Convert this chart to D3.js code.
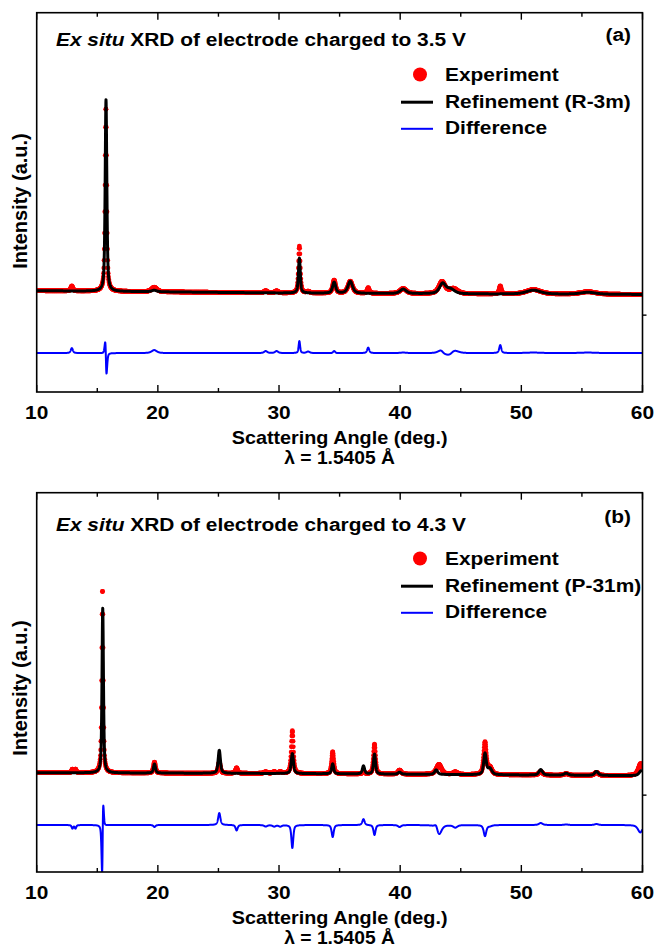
<!DOCTYPE html>
<html>
<head>
<meta charset="utf-8">
<script src="https://cdn.jsdelivr.net/npm/d3@7"></script>
<style>
  html, body { margin: 0; padding: 0; background: #fff; }
  svg text { font-family: "Liberation Sans", Arial, sans-serif; font-weight: bold; fill: #000; }
</style>
</head>
<body>
<svg id="chart" width="656" height="948"></svg>
<script>
// ---------- shared axis data ----------
const xDomain = [10, 60];
const xMajorTicks = [10, 20, 30, 40, 50, 60];
const xMinorTicks = [15, 25, 35, 45, 55];
const yDomain = [0, 3800];          // counts
const yRightTicks = [770];
const xTitle = "Scattering Angle (deg.)";
const wavelengthLabel = "\u03bb = 1.5405 \u00c5";
const yTitle = "Intensity (a.u.)";
const lorentzFraction = 0.6;        // pseudo-Voigt mixing

// ---------- panel (a): 3.5 V, R-3m ----------
// reflections: [2θ (deg), height above background (counts), FWHM (deg)]
const calcPeaksA = [
  [15.72, 1920, 0.16], [19.70, 15, 0.5], [31.68, 350, 0.18], [34.55, 110, 0.30],
  [35.88, 120, 0.45], [40.25, 45, 0.6], [43.50, 100, 0.6], [44.15, 45, 0.8],
  [51.00, 40, 1.4], [55.50, 20, 1.5]
];
const obsPeaksA = [
  [12.90, 50, 0.2], [15.71, 1850, 0.16], [19.70, 45, 0.5], [28.90, 20, 0.3],
  [29.80, 20, 0.3], [31.68, 470, 0.17], [32.40, 15, 0.3], [34.55, 130, 0.28],
  [35.88, 120, 0.45], [37.36, 55, 0.2], [40.25, 50, 0.6], [43.45, 120, 0.6],
  [44.40, 50, 0.8], [48.26, 80, 0.2], [51.00, 45, 1.4], [55.50, 25, 1.5]
];
const backgroundA = [[10, 1015], [30, 992], [45, 982], [60, 977]];
const residualOffsetA = 390;
const residualSignA = 1;      // observed − calculated
const titleA = { italic: "Ex situ", rest: " XRD of electrode charged to 3.5 V" };
const tagA = "(a)";
const legendA = ["Experiment", "Refinement (R-3m)", "Difference"];

// ---------- panel (b): 4.3 V, P-31m ----------
const calcPeaksB = [
  [15.45, 1650, 0.14], [19.72, 90, 0.2], [25.07, 230, 0.22], [31.10, 200, 0.22],
  [34.43, 100, 0.2], [36.97, 80, 0.22], [37.88, 200, 0.2], [39.95, 20, 0.3],
  [42.97, 45, 0.3], [47.00, 210, 0.25], [47.40, 60, 0.4], [51.60, 55, 0.35],
  [53.70, 20, 0.4], [56.20, 40, 0.35], [59.90, 50, 0.4]
];
const obsPeaksB = [
  [12.95, 35, 0.15], [13.20, 35, 0.15], [15.43, 1850, 0.14], [19.72, 110, 0.2],
  [25.07, 110, 0.22], [26.50, 55, 0.2], [28.90, 15, 0.3], [29.60, 15, 0.3],
  [30.10, 15, 0.3], [31.10, 430, 0.2], [34.43, 220, 0.2], [36.97, 20, 0.22],
  [37.88, 300, 0.2], [39.95, 40, 0.3], [43.20, 100, 0.5], [44.55, 25, 0.4],
  [47.00, 320, 0.25], [47.40, 70, 0.4], [51.60, 35, 0.35], [53.70, 15, 0.4],
  [56.20, 30, 0.35], [59.85, 120, 0.45]
];
const backgroundB = [[10, 995], [30, 987], [50, 972], [60, 965]];
const residualOffsetB = 471;
const residualSignB = -1;     // plotted as calculated − observed
const titleB = { italic: "Ex situ", rest: " XRD of electrode charged to 4.3 V" };
const tagB = "(b)";
const legendB = ["Experiment", "Refinement (P-31m)", "Difference"];

// ---------- layout ----------
const svg = d3.select("#chart");
const plotLeft = 36.7, plotRight = 642.5;
const SX = 1.1;     // horizontal stretch of lettering
const FS = 19;

const panels = [
  { id: "a", top: 12.7, bottom: 392, calc: calcPeaksA, obs: obsPeaksA, bg: backgroundA,
    off: residualOffsetA, sign: residualSignA, title: titleA, tag: tagA, legend: legendA,
    titleBase: 45.5, tagBase: 41, legendBase: 81, yLabelY: 201 },
  { id: "b", top: 492.7, bottom: 872, calc: calcPeaksB, obs: obsPeaksB, bg: backgroundB,
    off: residualOffsetB, sign: residualSignB, title: titleB, tag: tagB, legend: legendB,
    titleBase: 531, tagBase: 523, legendBase: 565, yLabelY: 688 }
];

function backgroundAt(knots, t) {
  for (let i = 1; i < knots.length; i++) {
    if (t <= knots[i][0]) {
      const [x0, y0] = knots[i - 1], [x1, y1] = knots[i];
      return y0 + (y1 - y0) * (t - x0) / (x1 - x0);
    }
  }
  return knots[knots.length - 1][1];
}
// background plus pseudo-Voigt reflections
function patternAt(peaks, knots, t) {
  let s = backgroundAt(knots, t);
  for (const [c, h, w] of peaks) {
    const u = (t - c) / w;
    const lor = 1 / (1 + 4 * u * u);
    const gau = Math.exp(-4 * Math.LN2 * u * u);
    s += h * (lorentzFraction * lor + (1 - lorentzFraction) * gau);
  }
  return s;
}

function label(g, x, y, str, opts = {}) {
  const t = g.append("text")
    .attr("transform", `translate(${x},${y}) scale(${opts.sx ?? SX},1)`)
    .attr("text-anchor", opts.anchor || "start")
    .style("font-size", (opts.size || FS) + "px");
  if (str !== null) t.text(str);
  return t;
}

const lineGrid = d3.range(xDomain[0], xDomain[1] + 1e-9, 0.01);
const dotGrid = d3.range(xDomain[0], xDomain[1] + 1e-9, 0.02);

panels.forEach(p => {
  const g = svg.append("g");
  const x = d3.scaleLinear().domain(xDomain).range([plotLeft, plotRight]);
  const y = d3.scaleLinear().domain(yDomain).range([p.bottom, p.top]);

  const clipId = "clip-" + p.id;
  svg.append("clipPath").attr("id", clipId)
    .append("rect").attr("x", plotLeft).attr("y", p.top)
    .attr("width", plotRight - plotLeft).attr("height", p.bottom - p.top);
  const plot = g.append("g").attr("clip-path", `url(#${clipId})`);

  // observed points
  plot.append("g").selectAll("circle")
    .data(dotGrid)
    .join("circle")
    .attr("cx", d => x(d))
    .attr("cy", d => y(patternAt(p.obs, p.bg, d)))
    .attr("r", 2.4)
    .attr("fill", "#ff0000");

  // refined profile
  const line = d3.line().x(d => x(d[0])).y(d => y(d[1]));
  const calcSeries = lineGrid.map(t => [t, patternAt(p.calc, p.bg, t)]);
  plot.append("path").datum(calcSeries)
    .attr("d", line).attr("fill", "none")
    .attr("stroke", "#000").attr("stroke-width", 3).attr("stroke-linejoin", "round");

  // residual
  const diffSeries = lineGrid.map(t => [t,
    p.off + p.sign * (patternAt(p.obs, p.bg, t) - patternAt(p.calc, p.bg, t))]);
  plot.append("path").datum(diffSeries)
    .attr("d", line).attr("fill", "none")
    .attr("stroke", "#0000ff").attr("stroke-width", 2).attr("stroke-linejoin", "round");

  // frame
  g.append("rect").attr("x", plotLeft).attr("y", p.top)
    .attr("width", plotRight - plotLeft).attr("height", p.bottom - p.top)
    .attr("fill", "none").attr("stroke", "#000").attr("stroke-width", 1.6);

  // inward ticks on bottom and top
  const tickG = g.append("g").attr("stroke", "#000").attr("stroke-width", 1.4);
  const tickDefs = xMajorTicks.map(v => [v, 7]).concat(xMinorTicks.map(v => [v, 4]));
  tickDefs.forEach(([v, len]) => {
    tickG.append("line").attr("x1", x(v)).attr("x2", x(v))
      .attr("y1", p.bottom).attr("y2", p.bottom - len);
    tickG.append("line").attr("x1", x(v)).attr("x2", x(v))
      .attr("y1", p.top).attr("y2", p.top + len);
  });
  yRightTicks.forEach(v => {
    tickG.append("line").attr("x1", plotRight).attr("x2", plotRight + 4)
      .attr("y1", y(v)).attr("y2", y(v));
  });

  // tick labels
  xMajorTicks.forEach(v => label(g, x(v), p.bottom + 27, String(v), { anchor: "middle" }));

  // axis titles
  const cx = (plotLeft + plotRight) / 2;
  label(g, cx, p.bottom + 52, xTitle, { anchor: "middle", size: 18 });
  label(g, cx, p.bottom + 72, wavelengthLabel, { anchor: "middle", size: 17.5 });
  g.append("text")
    .attr("transform", `translate(27,${p.yLabelY}) rotate(-90)`)
    .attr("text-anchor", "middle")
    .style("font-size", "20px")
    .text(yTitle);

  // panel heading
  const t = label(g, 56, p.titleBase, null);
  t.append("tspan").style("font-style", "italic").text(p.title.italic);
  t.append("tspan").text(p.title.rest);
  label(g, 631, p.tagBase, p.tag, { anchor: "end", size: 19 });

  // legend
  const lg = g.append("g");
  const rows = [p.legendBase, p.legendBase + 26.7, p.legendBase + 53.3];
  lg.append("circle").attr("cx", 420).attr("cy", rows[0] - 6.5).attr("r", 7).attr("fill", "#ff0000");
  lg.append("line").attr("x1", 401).attr("x2", 433).attr("y1", rows[1] - 5.5).attr("y2", rows[1] - 5.5)
    .attr("stroke", "#000").attr("stroke-width", 3);
  lg.append("line").attr("x1", 401).attr("x2", 433).attr("y1", rows[2] - 5.5).attr("y2", rows[2] - 5.5)
    .attr("stroke", "#0000ff").attr("stroke-width", 2);
  p.legend.forEach((s, i) => label(lg, 445, rows[i], s));
});
</script>
</body>
</html>
